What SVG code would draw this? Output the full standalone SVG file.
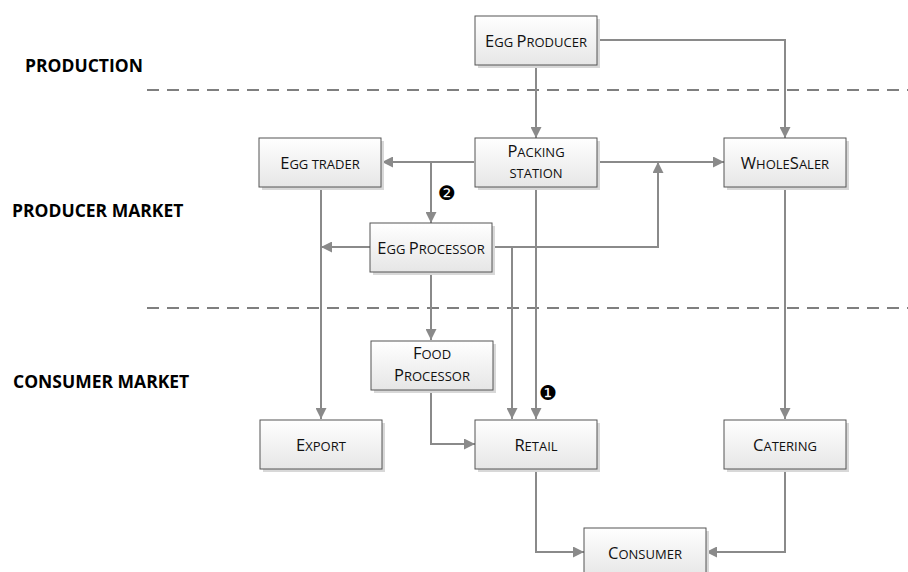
<svg xmlns="http://www.w3.org/2000/svg" width="908" height="572" viewBox="0 0 908 572">
<defs>
<linearGradient id="g" x1="0" y1="0" x2="0" y2="1">
<stop offset="0" stop-color="#ffffff"/>
<stop offset="1" stop-color="#e6e6e6"/>
</linearGradient>
<marker id="a" markerUnits="userSpaceOnUse" markerWidth="11" markerHeight="11" refX="11" refY="5.5" orient="auto">
<path d="M0,0 L11,5.5 L0,11 z" fill="#8a8a8a"/>
</marker>
</defs>
<style>
.box{fill:url(#g);stroke:#555;stroke-width:1}
.sh{fill:#d8d8d8}
.lbl{font-family:"Open Sans","Liberation Sans",sans-serif;font-size:16.5px;fill:#111;text-anchor:middle}
.sc{font-size:13px}
.sec{font-family:"Open Sans","Liberation Sans",sans-serif;font-weight:bold;font-size:17.5px;fill:#000}
.dash{stroke:#555;stroke-width:1.5;stroke-dasharray:12 8;fill:none}
.c{fill:none;stroke:#8a8a8a;stroke-width:2}
.ar{marker-end:url(#a)}
.num{font-family:"DejaVu Sans",sans-serif;font-size:20px;fill:#000;text-anchor:middle}
</style>
<g id="sections">
<text class="sec" x="25" y="72">PRODUCTION</text>
<text class="sec" x="12" y="217">PRODUCER MARKET</text>
<text class="sec" x="13" y="388">CONSUMER MARKET</text>
<line class="dash" x1="147" y1="90" x2="908" y2="90"/>
<line class="dash" x1="147" y1="308" x2="908" y2="308"/>
</g>
<g id="connectors">
<line class="c ar" x1="536" y1="64" x2="536" y2="138"/>
<polyline class="c ar" points="597,40 785,40 785,138"/>
<line class="c ar" x1="474" y1="162" x2="382" y2="162"/>
<line class="c ar" x1="431" y1="162" x2="431" y2="223"/>
<line class="c ar" x1="597" y1="162" x2="724" y2="162"/>
<polyline class="c ar" points="493,247 658,247 658,162"/>
<line class="c ar" x1="321" y1="186" x2="321" y2="419"/>
<line class="c ar" x1="370" y1="247" x2="321" y2="247"/>
<line class="c ar" x1="431" y1="272" x2="431" y2="340"/>
<line class="c ar" x1="512" y1="247" x2="512" y2="419"/>
<line class="c ar" x1="536" y1="187" x2="536" y2="419"/>
<polyline class="c ar" points="431,390 431,444 475,444"/>
<polyline class="c ar" points="536,470 536,552 584,552"/>
<polyline class="c ar" points="785,470 785,552 706,552"/>
<line class="c ar" x1="785" y1="187" x2="785" y2="419"/>
<text class="num" x="447" y="200">❷</text>
<text class="num" x="548" y="400">❶</text>
</g>
<g id="egg-producer">
<rect class="sh" x="478" y="19" width="122" height="49"/>
<rect class="box" x="475" y="16" width="122" height="49"/>
<text class="lbl" x="536" y="47">E<tspan class="sc">GG </tspan>P<tspan class="sc">RODUCER</tspan></text>
</g>
<g id="egg-trader">
<rect class="sh" x="262" y="141" width="122" height="49"/>
<rect class="box" x="259" y="138" width="122" height="49"/>
<text class="lbl" x="320" y="169">E<tspan class="sc">GG TRADER</tspan></text>
</g>
<g id="packing-station">
<rect class="sh" x="478" y="141" width="122" height="49"/>
<rect class="box" x="475" y="138" width="122" height="49"/>
<text class="lbl" x="536" y="157">P<tspan class="sc">ACKING</tspan></text>
<text class="lbl" x="536" y="178"><tspan class="sc">STATION</tspan></text>
</g>
<g id="wholesaler">
<rect class="sh" x="727" y="141" width="122" height="49"/>
<rect class="box" x="724" y="138" width="122" height="49"/>
<text class="lbl" x="785" y="169">W<tspan class="sc">HOLE</tspan>S<tspan class="sc">ALER</tspan></text>
</g>
<g id="egg-processor">
<rect class="sh" x="373" y="226" width="122" height="49"/>
<rect class="box" x="370" y="223" width="122" height="49"/>
<text class="lbl" x="431" y="254">E<tspan class="sc">GG </tspan>P<tspan class="sc">ROCESSOR</tspan></text>
</g>
<g id="food-processor">
<rect class="sh" x="374" y="344" width="122" height="49"/>
<rect class="box" x="371" y="341" width="122" height="49"/>
<text class="lbl" x="432" y="359">F<tspan class="sc">OOD</tspan></text>
<text class="lbl" x="432" y="381">P<tspan class="sc">ROCESSOR</tspan></text>
</g>
<g id="export">
<rect class="sh" x="263" y="423" width="122" height="49"/>
<rect class="box" x="260" y="420" width="122" height="49"/>
<text class="lbl" x="321" y="451">E<tspan class="sc">XPORT</tspan></text>
</g>
<g id="retail">
<rect class="sh" x="478" y="423" width="122" height="49"/>
<rect class="box" x="475" y="420" width="122" height="49"/>
<text class="lbl" x="536" y="451">R<tspan class="sc">ETAIL</tspan></text>
</g>
<g id="catering">
<rect class="sh" x="727" y="423" width="122" height="49"/>
<rect class="box" x="724" y="420" width="122" height="49"/>
<text class="lbl" x="785" y="451">C<tspan class="sc">ATERING</tspan></text>
</g>
<g id="consumer">
<rect class="sh" x="587" y="531" width="122" height="49"/>
<rect class="box" x="584" y="528" width="122" height="49"/>
<text class="lbl" x="645" y="559">C<tspan class="sc">ONSUMER</tspan></text>
</g>
</svg>
